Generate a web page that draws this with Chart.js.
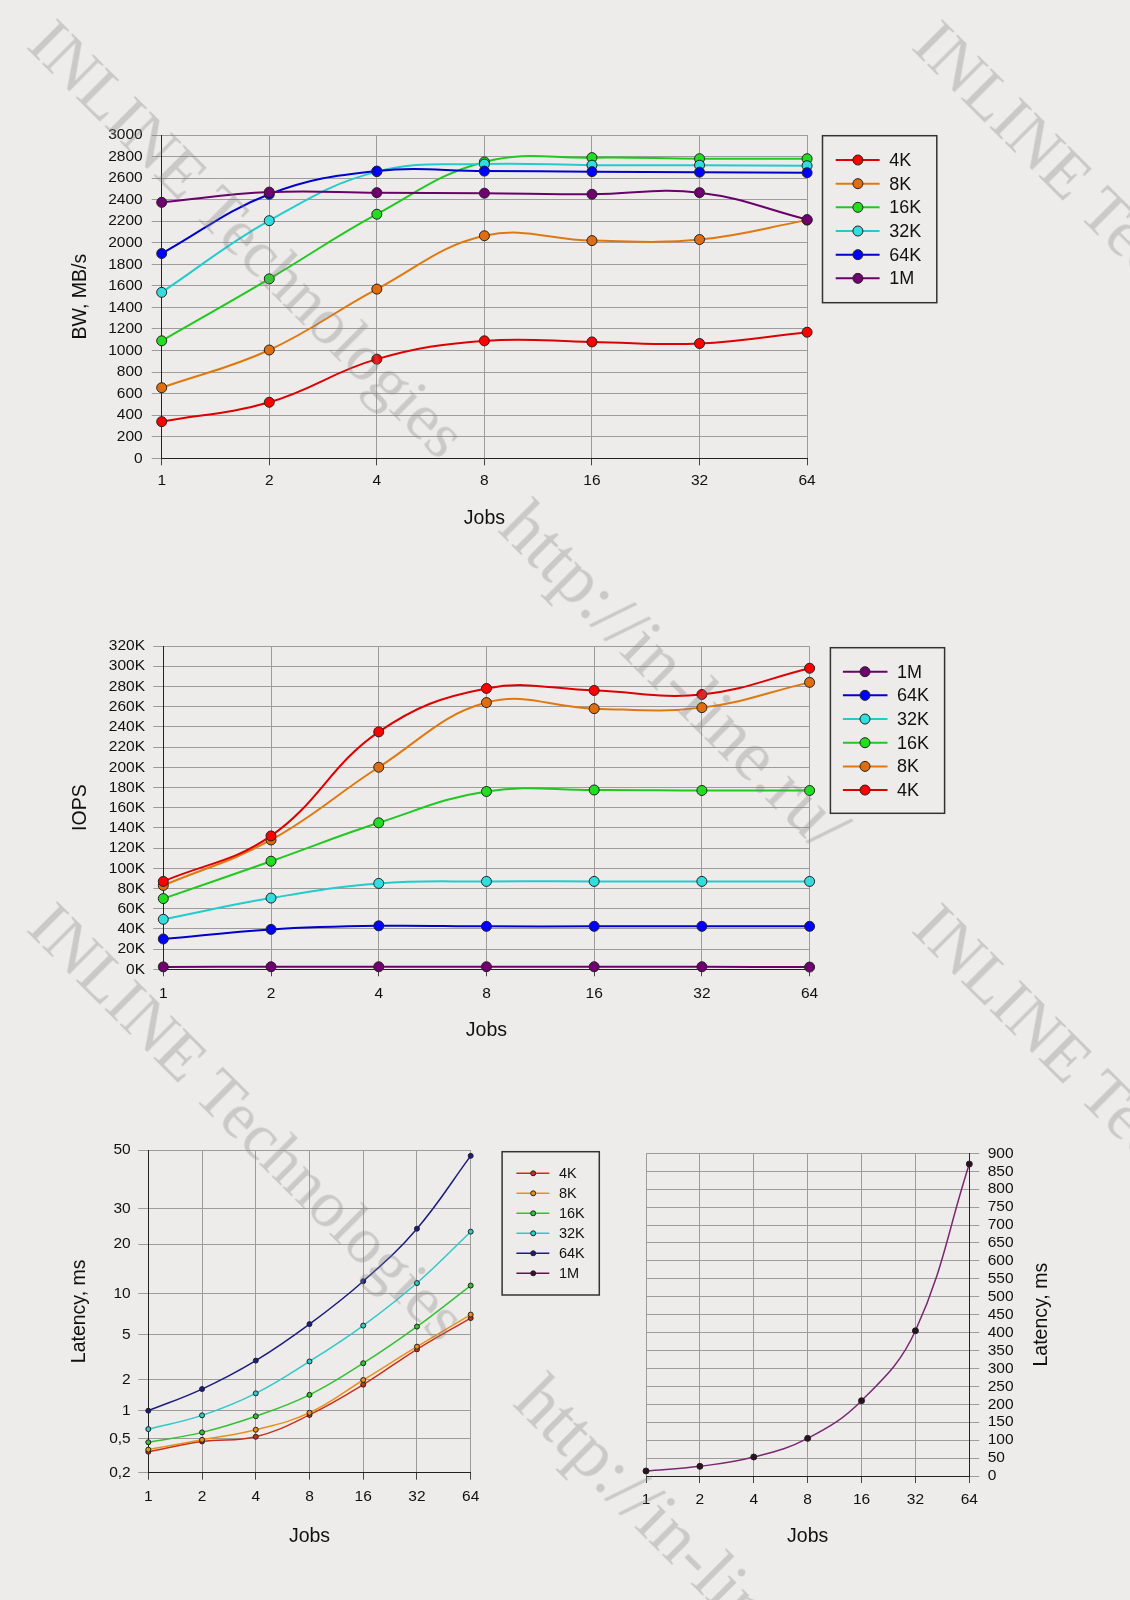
<!DOCTYPE html>
<html>
<head>
<meta charset="utf-8">
<script src="https://cdn.jsdelivr.net/npm/chart.js@4.4.1/dist/chart.umd.min.js"></script>
<style>
  html, body { margin: 0; padding: 0; }
  body { width: 1130px; height: 1600px; background: #eeecea; position: relative; overflow: hidden; }
  canvas { position: absolute; }
  .wm { position: absolute; transform-origin: 0 0; transform: rotate(45deg); font-family: "Liberation Serif", "Times New Roman", serif;
        font-size: 66px; line-height: 1; white-space: nowrap; color: rgba(130, 130, 130, 0.33); pointer-events: none; }
</style>
</head>
<body>
<canvas id="bw" width="1130" height="470" style="left:0;top:90px"></canvas>
<canvas id="iops" width="1130" height="470" style="left:0;top:600px"></canvas>
<canvas id="lat" width="620" height="490" style="left:0;top:1100px"></canvas>
<canvas id="lat1m" width="510" height="490" style="left:620px;top:1100px"></canvas>

<div class="wm" style="left:64px;top:8px">INLINE Technologies</div>
<div class="wm" style="left:949px;top:9px">INLINE Technologies</div>
<div class="wm" style="left:539px;top:488px;font-size:72px">http://in-line.ru/</div>
<div class="wm" style="left:64px;top:891px">INLINE Technologies</div>
<div class="wm" style="left:949px;top:892px">INLINE Technologies</div>
<div class="wm" style="left:554px;top:1362px;font-size:72px">http://in-line.ru/</div>

<script>
// jobs on the x axis
const jobs = ['1', '2', '4', '8', '16', '32', '64'];

// bandwidth, MB/s
const bw4K  = [340, 520, 920, 1090, 1080, 1065, 1170];
const bw8K  = [655, 1005, 1570, 2065, 2020, 2030, 2210];
const bw16K = [1090, 1665, 2265, 2750, 2790, 2780, 2780];
const bw32K = [1540, 2205, 2660, 2730, 2720, 2720, 2715];
const bw64K = [1900, 2450, 2665, 2665, 2660, 2655, 2650];
const bw1M  = [2375, 2470, 2465, 2460, 2450, 2465, 2215];

// IOPS, thousands
const iops1M  = [2.4, 2.5, 2.5, 2.5, 2.5, 2.5, 2.2];
const iops64K = [30, 39.5, 43, 42.5, 42.5, 42.5, 42.5];
const iops32K = [49.5, 70.5, 85, 87, 87, 87, 87];
const iops16K = [70, 107, 145, 176, 177.5, 177, 177];
const iops8K  = [83, 128, 200, 264, 258, 259, 284];
const iops4K  = [87, 132, 235, 278, 276, 272, 298];

// latency, ms
const lat4K  = [0.35, 0.46, 0.52, 0.90, 1.8, 3.7, 6.6];
const lat8K  = [0.37, 0.48, 0.62, 0.95, 2.0, 3.9, 7.0];
const lat16K = [0.45, 0.58, 0.87, 1.43, 2.8, 5.7, 11.2];
const lat32K = [0.63, 0.89, 1.48, 2.9, 5.8, 11.6, 23];
const lat64K = [1.0, 1.63, 2.95, 5.95, 11.9, 23.8, 47.5];
const lat1M  = [14, 27, 53, 105, 210, 405, 870];

// tick labels of the latency axis
const latTicks = [0.2, 0.5, 1, 2, 5, 10, 20, 30, 50];

Chart.defaults.font.family = '"Liberation Sans", Arial, sans-serif';
Chart.defaults.color = '#111';
Chart.defaults.animation = false;

const GRID = '#9c9c9c';
const AXIS = '#222';

// latency axis of the original: log spacing inside each step, steps placed unevenly
class WarpScale extends Chart.LinearScale {
  determineDataLimits() {
    const v = this.options.tickValues;
    this.min = v[0];
    this.max = v[v.length - 1];
  }
  buildTicks() {
    return this.options.tickValues.map(value => ({ value }));
  }
  getPixelForValue(value) {
    if (value === null || isNaN(value)) return NaN;
    const v = this.options.tickValues, f = this.options.stops;
    let i = 0;
    while (i < v.length - 2 && value > v[i + 1]) i++;
    const t = f[i] + (f[i + 1] - f[i]) * Math.log(value / v[i]) / Math.log(v[i + 1] / v[i]);
    return this.getPixelForDecimal(t);
  }
  getValueForPixel(pixel) {
    const t = this.getDecimalForPixel(pixel);
    const v = this.options.tickValues, f = this.options.stops;
    let i = 0;
    while (i < f.length - 2 && t > f[i + 1]) i++;
    return v[i] * Math.pow(v[i + 1] / v[i], (t - f[i]) / (f[i + 1] - f[i]));
  }
}
WarpScale.id = 'warp';
WarpScale.defaults = {};
Chart.register(WarpScale);

// framed legend: line + marker + label per dataset
const boxLegend = {
  id: 'boxLegend',
  afterDraw(chart, args, o) {
    const { ctx, chartArea } = chart;
    const x = chartArea.right + o.dx, y = chartArea.top + o.dy;
    ctx.save();
    ctx.strokeStyle = '#333';
    ctx.lineWidth = 1.5;
    ctx.strokeRect(x, y, o.w, o.h);
    ctx.font = o.size + 'px ' + Chart.defaults.font.family;
    ctx.textBaseline = 'middle';
    chart.data.datasets.forEach((ds, i) => {
      const ry = y + o.row0 + i * o.rowH;
      ctx.strokeStyle = ds.borderColor;
      ctx.lineWidth = ds.borderWidth;
      ctx.beginPath();
      ctx.moveTo(x + o.l0, ry);
      ctx.lineTo(x + o.l1, ry);
      ctx.stroke();
      ctx.beginPath();
      ctx.arc(x + o.mx, ry, ds.pointRadius, 0, Math.PI * 2);
      ctx.fillStyle = ds.pointBackgroundColor;
      ctx.fill();
      ctx.strokeStyle = ds.pointBorderColor;
      ctx.lineWidth = 1;
      ctx.stroke();
      ctx.fillStyle = '#111';
      ctx.fillText(ds.label, x + o.tx, ry + 1);
    });
    ctx.restore();
  }
};

// axis title on the right, reading upwards
const sideTitle = {
  id: 'sideTitle',
  afterDraw(chart, args, o) {
    const { ctx, chartArea } = chart;
    ctx.save();
    ctx.translate(chartArea.right + o.dx, (chartArea.top + chartArea.bottom) / 2);
    ctx.rotate(-Math.PI / 2);
    ctx.font = o.size + 'px ' + Chart.defaults.font.family;
    ctx.fillStyle = '#111';
    ctx.textAlign = 'center';
    ctx.textBaseline = 'middle';
    ctx.fillText(o.text, 0, 0);
    ctx.restore();
  }
};

function series(label, data, color, point, radius, width, order) {
  return {
    label, data, order,
    borderColor: color, borderWidth: width,
    backgroundColor: point, pointBackgroundColor: point,
    pointBorderColor: '#222', pointBorderWidth: 1,
    pointRadius: radius, pointHoverRadius: radius,
    tension: 0.4, clip: false
  };
}

function xJobs(pad, titlePad, height) {
  return {
    type: 'category',
    grid: { color: GRID, tickLength: 7, tickColor: '#444' },
    border: { color: AXIS, width: 1 },
    ticks: { padding: pad, font: { size: 15.5 }, color: '#111', autoSkip: false, maxRotation: 0 },
    title: { display: true, text: 'Jobs', font: { size: 19.5 }, color: '#111', padding: { top: 0, bottom: titlePad } },
    afterFit: s => { s.height = height; }
  };
}

function yLeft(text, width, titlePad) {
  return {
    position: 'left',
    grid: { color: GRID, tickLength: 10 },
    border: { color: AXIS, width: 1 },
    title: { display: true, text, font: { size: 19.5 }, color: '#111', padding: { top: titlePad, bottom: 0 } },
    afterFit: s => { s.width = width; }
  };
}

const common = {
  responsive: false,
  events: [],
  plugins: { legend: { display: false }, tooltip: { enabled: false } }
};

// BW chart
new Chart(document.getElementById('bw'), {
  type: 'line',
  data: {
    labels: jobs,
    datasets: [
      series('4K', bw4K, '#dd0000', '#ff0000', 5, 2, 6),
      series('8K', bw8K, '#e07810', '#e06d10', 5, 2, 5),
      series('16K', bw16K, '#20c820', '#22dd22', 5, 2, 4),
      series('32K', bw32K, '#22cccc', '#33dddd', 5, 2, 3),
      series('64K', bw64K, '#0000cc', '#0000ff', 5, 2, 2),
      series('1M', bw1M, '#6a006a', '#700070', 5, 2, 1)
    ]
  },
  options: {
    ...common,
    layout: { padding: { left: 60, top: 45, right: 322.9, bottom: 21.7 } },
    plugins: {
      ...common.plugins,
      boxLegend: { dx: 15.4, dy: 0.7, w: 114.3, h: 167, row0: 24.3, rowH: 23.67, l0: 13.2, l1: 57.1, mx: 35.4, tx: 66.8, size: 18 }
    },
    scales: {
      x: xJobs(6.4, 8.0, 80),
      y: { ...yLeft('BW, MB/s', 101.7, 8.9), min: 0, max: 3000,
           ticks: { padding: 9, font: { size: 15.5 }, color: '#111', autoSkip: false, stepSize: 200, callback: v => String(v) } }
    }
  },
  plugins: [boxLegend]
});

// IOPS chart
new Chart(document.getElementById('iops'), {
  type: 'line',
  data: {
    labels: jobs,
    datasets: [
      series('1M', iops1M, '#6a006a', '#700070', 5, 2, 6),
      series('64K', iops64K, '#0000cc', '#0000ff', 5, 2, 5),
      series('32K', iops32K, '#22cccc', '#33dddd', 5, 2, 4),
      series('16K', iops16K, '#20c820', '#22dd22', 5, 2, 3),
      series('8K', iops8K, '#e07810', '#e06d10', 5, 2, 2),
      series('4K', iops4K, '#dd0000', '#ff0000', 5, 2, 1)
    ]
  },
  options: {
    ...common,
    layout: { padding: { left: 60, top: 46, right: 320.4, bottom: 20.7 } },
    plugins: {
      ...common.plugins,
      boxLegend: { dx: 20.8, dy: 1.7, w: 114.2, h: 165.6, row0: 24, rowH: 23.67, l0: 12.5, l1: 57.1, mx: 34.6, tx: 66.7, size: 18 }
    },
    scales: {
      x: xJobs(7.7, 6.6, 80),
      y: { ...yLeft('IOPS', 103.3, 8.9), min: 0, max: 320,
           ticks: { padding: 8.3, font: { size: 15.5 }, color: '#111', autoSkip: false, stepSize: 20, callback: v => v + 'K' } }
    }
  },
  plugins: [boxLegend]
});

// latency chart, small blocks
new Chart(document.getElementById('lat'), {
  type: 'line',
  data: {
    labels: jobs,
    datasets: [
      series('4K', lat4K, '#c8301c', '#c8301c', 2.5, 1.5, 6),
      series('8K', lat8K, '#e8901e', '#e8901e', 2.5, 1.5, 5),
      series('16K', lat16K, '#34c034', '#34c034', 2.5, 1.5, 4),
      series('32K', lat32K, '#30c8c8', '#30c8c8', 2.5, 1.5, 3),
      series('64K', lat64K, '#1c1c80', '#1c1c80', 2.5, 1.5, 2),
      series('1M', [], '#5a1a48', '#3a1030', 2.5, 1.5, 1)
    ]
  },
  options: {
    ...common,
    layout: { padding: { left: 55, top: 50, right: 149.3, bottom: 37.3 } },
    plugins: {
      ...common.plugins,
      boxLegend: { dx: 31.4, dy: 1.7, w: 97.2, h: 143.3, row0: 21.6, rowH: 20, l0: 14.3, l1: 47.2, mx: 31.1, tx: 56.8, size: 14.5 }
    },
    scales: {
      x: xJobs(7.7, 4.3, 80),
      y: { ...yLeft('Latency, ms', 93.3, 12.9), type: 'warp', tickValues: latTicks,
           stops: [0, 0.1066, 0.1921, 0.2873, 0.4289, 0.5547, 0.7087, 0.8193, 1],
           ticks: { padding: 7.6, font: { size: 15.5 }, color: '#111', autoSkip: false,
                    callback: v => String(v).replace('.', ',') } }
    }
  },
  plugins: [boxLegend]
});

// latency chart, 1M blocks
new Chart(document.getElementById('lat1m'), {
  type: 'line',
  data: {
    labels: jobs,
    datasets: [series('1M', lat1M, '#7a2870', '#2a1020', 3, 1.5, 1)]
  },
  options: {
    ...common,
    layout: { padding: { left: 26, top: 53.3, right: 60.7, bottom: 34 } },
    plugins: { ...common.plugins, sideTitle: { text: 'Latency, ms', dx: 72.4, size: 19.5 } },
    scales: {
      x: xJobs(7.7, 7.6, 80),
      y: {
        position: 'right', min: 0, max: 900,
        grid: { color: GRID, tickLength: 10 },
        border: { color: AXIS, width: 1 },
        ticks: { padding: 8.4, font: { size: 15.5 }, color: '#111', autoSkip: false, stepSize: 50 },
        afterFit: s => { s.width = 100; }
      }
    }
  },
  plugins: [sideTitle]
});
</script>
</body>
</html>
